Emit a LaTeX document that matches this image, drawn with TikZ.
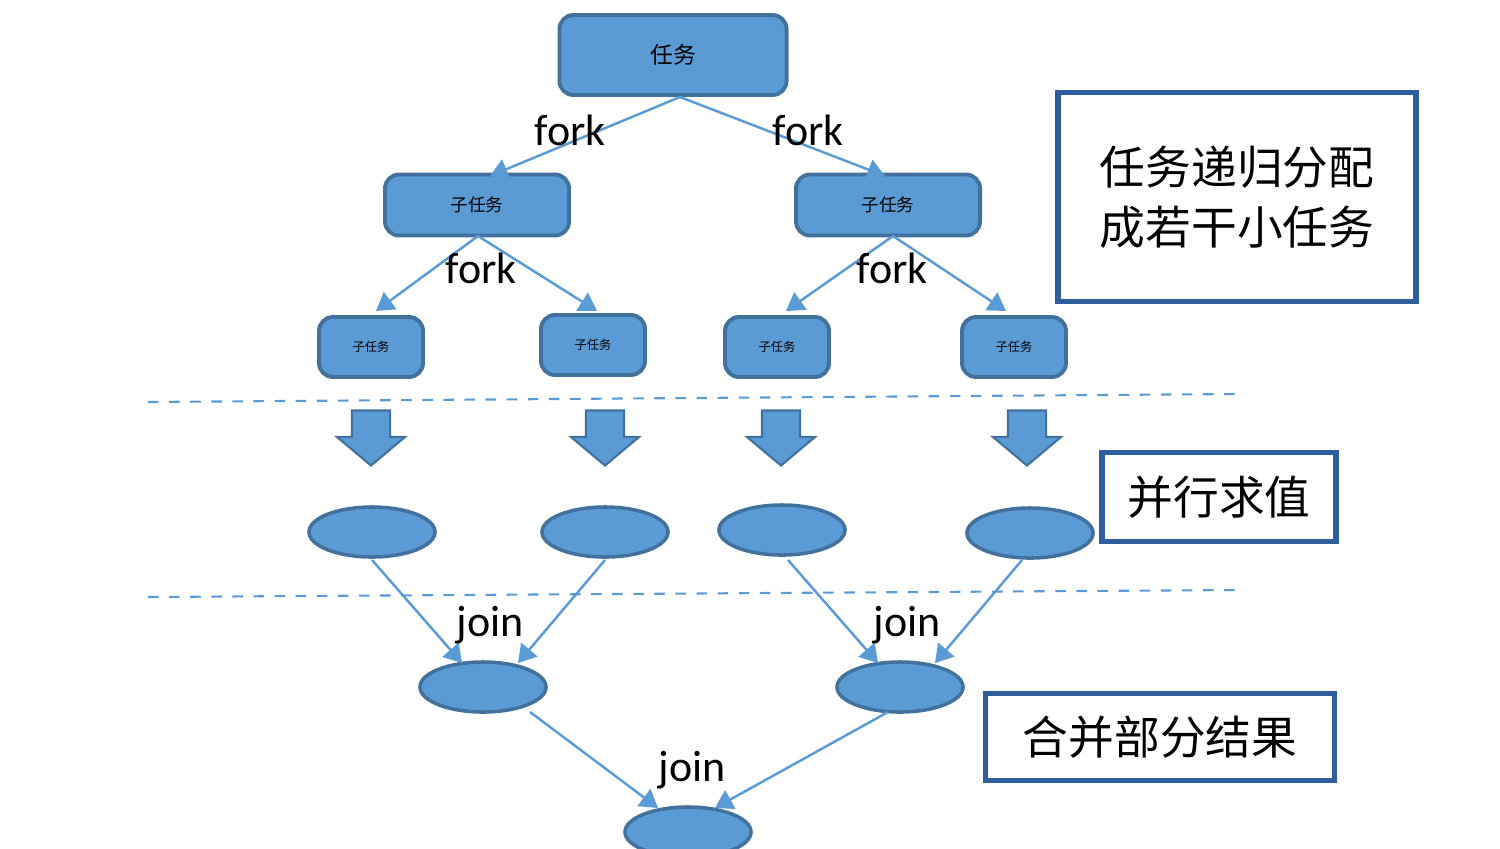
\documentclass[tikz,border=0pt]{standalone}
\usepackage{fontspec}
\setmainfont{Carlito}
\newfontfamily\cjk{Noto Sans CJK SC}
\usetikzlibrary{shapes.geometric,shapes.arrows,arrows.meta}
\definecolor{fillb}{HTML}{5B9BD5}
\definecolor{edgeb}{HTML}{41719C}
\definecolor{frameb}{HTML}{2E5E9E}
\begin{document}
\begin{tikzpicture}[x=0.01cm,y=-0.01cm,
  box/.style={draw=edgeb,line width=1.1pt,fill=fillb,rounded corners=4pt,inner sep=0},
  ell/.style={draw=edgeb,line width=1pt,fill=fillb,ellipse,minimum width=1.26cm,minimum height=0.5cm,inner sep=0},
  con/.style={draw=fillb,line width=0.7pt,-{Triangle[length=5pt,width=6pt]}},
  lbl/.style={font=\fontsize{12.5}{13}\selectfont},
  note/.style={draw=frameb,line width=1.5pt,fill=white,inner sep=0,align=center,font=\cjk\fontsize{13}{17}\selectfont},
  sep/.style={draw=fillb,dashed,line width=0.6pt},
  down/.style={single arrow,shape border rotate=270,fill=fillb,draw=edgeb,line width=0.6pt,single arrow head extend=0.15cm,single arrow tip angle=100,inner sep=0.18cm}]
\useasboundingbox (0,0) rectangle (1500,848);
\node[box,minimum width=2.27cm,minimum height=0.8cm,font=\cjk\fontsize{6.5}{7}\selectfont] (t) at (673,55) {任务};
\node[box,minimum width=1.84cm,minimum height=0.61cm,font=\cjk\fontsize{5}{6}\selectfont] (s1) at (477,205) {子任务};
\node[box,minimum width=1.84cm,minimum height=0.61cm,font=\cjk\fontsize{5}{6}\selectfont] (s2) at (888,205) {子任务};
\foreach \n/\x/\y in {a/371/347,b/593/345,c/777/347,d/1014/347}
  \node[box,minimum width=1.04cm,minimum height=0.6cm,font=\cjk\fontsize{3.5}{4}\selectfont] (\n) at (\x,\y) {子任务};
\coordinate (tp) at (680,97);
\coordinate (s1b) at (478,236);
\coordinate (s2b) at (893,236);
\coordinate (s1t) at (490,176);
\coordinate (s2t) at (885,176);
\draw[con] (tp) -- (s1t);
\draw[con] (tp) -- (s2t);
\coordinate (at) at (376,311);
\coordinate (bt) at (597,311);
\coordinate (ct) at (786,311);
\coordinate (dt) at (1006,311);
\draw[con] (s1b) -- (at);
\draw[con] (s1b) -- (bt);
\draw[con] (s2b) -- (ct);
\draw[con] (s2b) -- (dt);
\node[lbl] (f1) at (570,130) {fork};
\node[lbl] (f2) at (808,130) {fork};
\node[lbl] (f3) at (481,268) {fork};
\node[lbl] (f4) at (892,268) {fork};
\coordinate (d1a) at (148,402); \coordinate (d1b) at (1237,394);
\draw[sep] (d1a) -- (d1b);
\coordinate (d2a) at (148,597); \coordinate (d2b) at (1237,590);
\draw[sep] (d2a) -- (d2b);
\foreach \n/\x in {da/371,db/605,dc/781,dd/1027}
  \node[down,minimum width=0.4cm,minimum height=0.55cm] (\n) at (\x,430) {};
\node[ell] (e1) at (372,532) {};
\node[ell] (e2) at (605,532) {};
\node[ell] (e3) at (782,530) {};
\node[ell] (e4) at (1030,533) {};
\node[ell] (j1) at (483,687) {};
\node[ell] (j2) at (900,687) {};
\node[ell] (r) at (688,832) {};
\coordinate (e1b) at (372,560); \coordinate (e2b) at (605,560);
\coordinate (e3b) at (788,560); \coordinate (e4b) at (1022,560);
\coordinate (j1l) at (462,663); \coordinate (j1r) at (518,663);
\coordinate (j2l) at (878,663); \coordinate (j2r) at (935,663);
\draw[con] (e1b) -- (j1l);
\draw[con] (e2b) -- (j1r);
\draw[con] (e3b) -- (j2l);
\draw[con] (e4b) -- (j2r);
\coordinate (j1b) at (530,712); \coordinate (j2b) at (888,712);
\coordinate (rl) at (658,808); \coordinate (rr) at (715,808);
\draw[con] (j1b) -- (rl);
\draw[con] (j2b) -- (rr);
\node[lbl] (jl1) at (490,625) {join};
\node[lbl] (jl2) at (907,625) {join};
\node[lbl] (jl3) at (692,770) {join};
\node[note,minimum width=3.58cm,minimum height=2.09cm] (n1) at (1237,197) {任务递归分配\\成若干小任务};
\node[note,minimum width=2.34cm,minimum height=0.89cm] (n2) at (1219,497) {并行求值};
\node[note,minimum width=3.49cm,minimum height=0.87cm] (n3) at (1160,737) {合并部分结果};
\end{tikzpicture}
\end{document}
